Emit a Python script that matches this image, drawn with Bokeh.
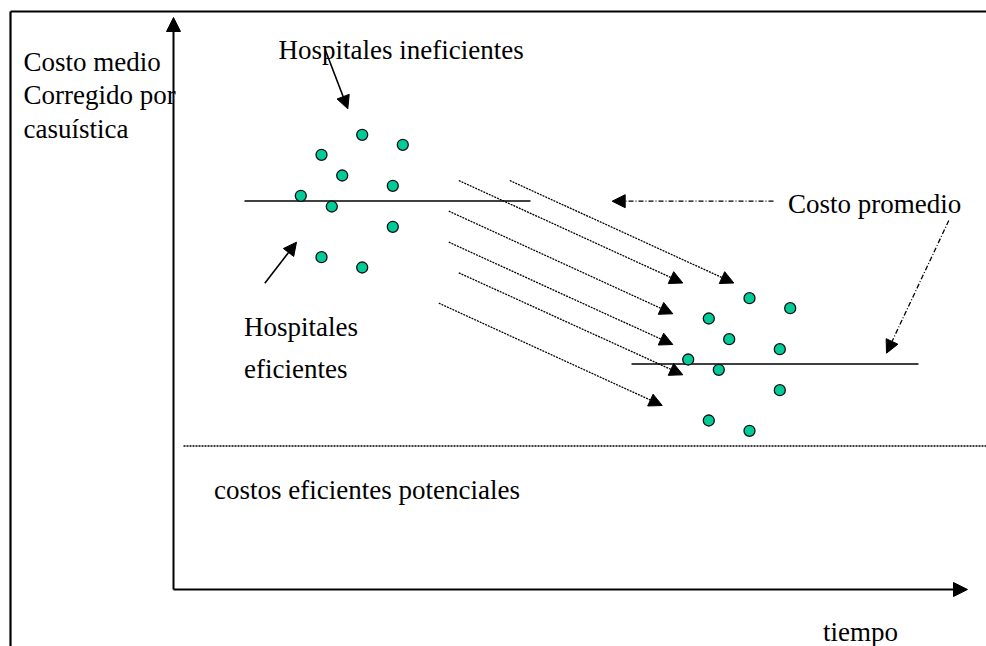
from bokeh.plotting import figure
from bokeh.models import Arrow, NormalHead, ColumnDataSource, Range1d
from bokeh.core.properties import value
from bokeh.embed import file_html
from bokeh.resources import INLINE

# ---- data (diagram coordinates) ----
before_x = [361.7, 402.3, 321.0, 341.7, 392.3, 300.3, 331.3, 392.3, 321.0, 361.7]
before_y = [134.3, 144.3, 154.3, 175.0, 185.3, 195.3, 206.0, 226.3, 256.7, 267.0]
after_x = [749.0, 789.7, 708.3, 728.7, 779.3, 687.7, 718.3, 779.3, 708.3, 749.0]
after_y = [297.7, 307.7, 318.0, 338.7, 348.7, 359.0, 369.3, 389.7, 420.0, 430.3]

mean_before = {"x0": 244, "x1": 530, "y": 200.5}
mean_after = {"x0": 631, "x1": 918, "y": 363.5}
potential_cost = {"x0": 183, "x1": 986, "y": 445.5}

move_x0 = [458.3, 509.3, 448.3, 448.3, 458.3, 438.3]
move_y0 = [180.0, 180.0, 210.7, 241.7, 272.3, 302.7]
move_x1 = [682.3, 733.3, 672.3, 672.3, 682.3, 661.7]
move_y1 = [282.5, 282.5, 313.3, 344.0, 374.3, 405.0]

labels = ["Costo medio", "Corregido por", "casuística", "Hospitales ineficientes",
          "Costo promedio", "Hospitales", "eficientes",
          "costos eficientes potenciales", "tiempo"]
label_x = [23, 23, 23, 278, 787.5, 243.5, 243.5, 213.5, 822.5]
label_y = [61.7, 94.5, 128.3, 49.5, 203.3, 326.5, 368.0, 489.3, 631.7]

FONT = "Liberation Serif"
DOT = "#00CC99"

p = figure(width=986, height=646, output_backend="svg", toolbar_location=None,
           x_range=Range1d(0, 986), y_range=Range1d(646, 0),
           x_axis_location=None, y_axis_location=None, min_border=0,
           outline_line_color=None, background_fill_color="white",
           border_fill_color="white")
p.grid.visible = False

# frame (top and left borders)
p.segment(x0=[10, 10], y0=[11, 11], x1=[986, 10], y1=[11, 646],
          line_color="black", line_width=2.2)

# axes with arrow heads
axes_src = ColumnDataSource(dict(x0=[173, 173], y0=[589, 589], x1=[173, 967], y1=[17, 589]))
p.add_layout(Arrow(source=axes_src, x_start="x0", y_start="y0", x_end="x1", y_end="y1",
                   line_color="black", line_width=2,
                   end=NormalHead(size=14, fill_color="black", line_color="black", line_width=1)))

# potential cost dotted line
p.segment(x0=[potential_cost["x0"]], y0=[potential_cost["y"]],
          x1=[potential_cost["x1"]], y1=[potential_cost["y"]],
          line_color="black", line_width=1.3, line_dash="2 1")

# movement arrows (dotted)
mv_src = ColumnDataSource(dict(x0=move_x0, y0=move_y0, x1=move_x1, y1=move_y1))
p.add_layout(Arrow(source=mv_src, x_start="x0", y_start="y0", x_end="x1", y_end="y1",
                   line_color="black", line_width=1.3, line_dash="2 1",
                   end=NormalHead(size=13, fill_color="black", line_color="black", line_width=1)))

# mean lines
p.segment(x0=[mean_before["x0"], mean_after["x0"]], y0=[mean_before["y"], mean_after["y"]],
          x1=[mean_before["x1"], mean_after["x1"]], y1=[mean_before["y"], mean_after["y"]],
          line_color="black", line_width=1.6)

# solid label arrows
sol_src = ColumnDataSource(dict(x0=[325, 264.3], y0=[50, 282.7], x1=[347.3, 296], y1=[108.3, 241.7]))
p.add_layout(Arrow(source=sol_src, x_start="x0", y_start="y0", x_end="x1", y_end="y1",
                   line_color="black", line_width=1.6,
                   end=NormalHead(size=13, fill_color="black", line_color="black", line_width=1)))

# dash-dot "Costo promedio" arrows
dd_src = ColumnDataSource(dict(x0=[773, 948.3], y0=[200.7, 220], x1=[611.7, 886], y1=[200.7, 352.7]))
p.add_layout(Arrow(source=dd_src, x_start="x0", y_start="y0", x_end="x1", y_end="y1",
                   line_color="black", line_width=1.3, line_dash="5 2 1 2",
                   end=NormalHead(size=13, fill_color="black", line_color="black", line_width=1)))

# hospitals
p.scatter(before_x, before_y, size=11, fill_color=DOT, line_color="#111111", line_width=1.3)
p.scatter(after_x, after_y, size=11, fill_color=DOT, line_color="#111111", line_width=1.3)

# texts
p.text(x=label_x, y=label_y, text=labels, text_font=value(FONT), text_font_size="27px",
       text_color="black", text_align="left", text_baseline="alphabetic")

open("out.html", "w").write(file_html(p, INLINE))
